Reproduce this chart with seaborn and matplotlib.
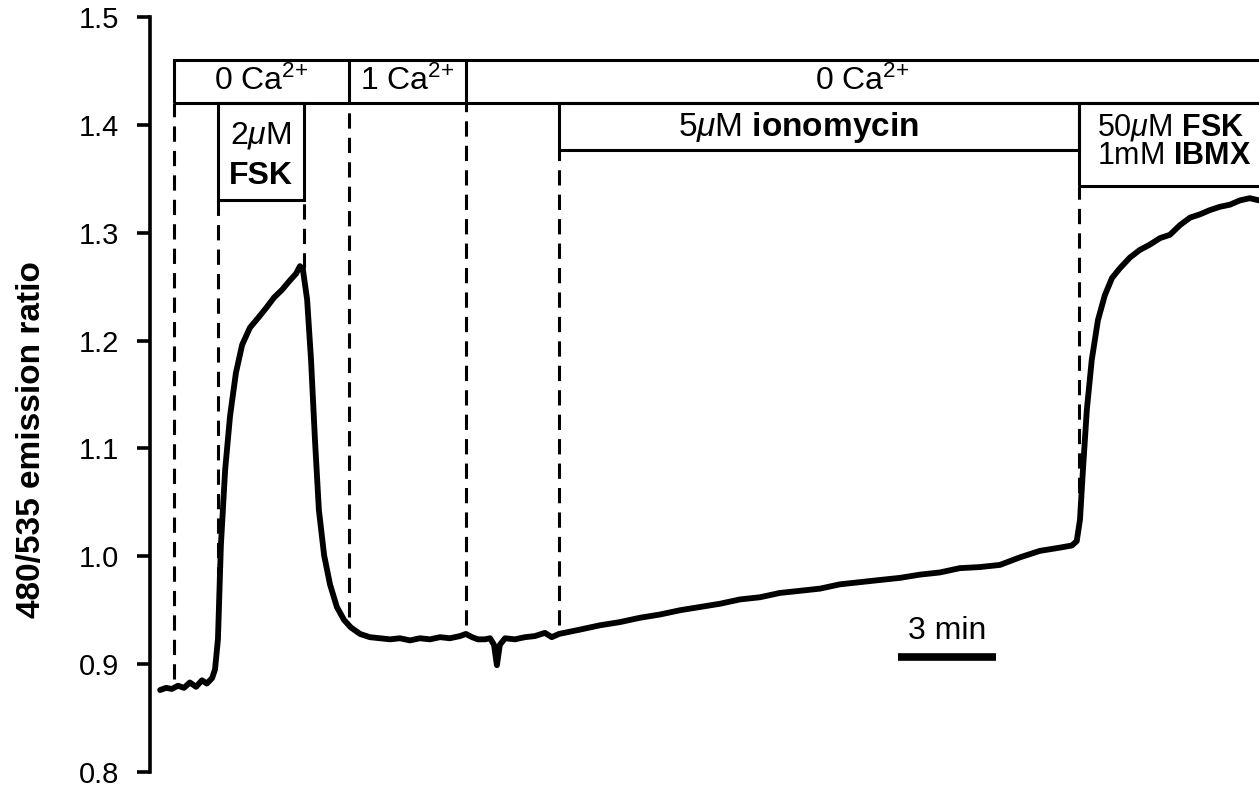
"""Calcium / cAMP FRET trace with perfusion-protocol boxes."""
import matplotlib.pyplot as plt
from matplotlib.patches import Rectangle
import numpy as np
import seaborn as sns

# ── data (minutes, 480/535 ratio) ──────────────────────────────────────────
time = [0.31, 0.49, 0.67, 0.86, 1.04, 1.22, 1.41, 1.59, 1.74, 1.90, 1.99, 2.08,
        2.17, 2.30, 2.45, 2.63, 2.82, 3.06, 3.31, 3.55, 3.80, 4.04, 4.29, 4.47,
        4.59, 4.68, 4.81, 4.93, 5.05, 5.17, 5.33, 5.51, 5.72, 5.94, 6.15, 6.43,
        6.73, 7.04, 7.35, 7.65, 7.96, 8.26, 8.57, 8.88, 9.18, 9.49, 9.67, 9.86,
        10.04, 10.25, 10.41, 10.53, 10.62, 10.71, 10.87, 11.17, 11.48, 11.78,
        12.09, 12.30, 12.52, 13.16, 13.77, 14.39, 15.00, 15.61, 16.23, 16.84,
        17.45, 18.06, 18.67, 19.28, 19.90, 20.51, 21.12, 21.73, 22.34, 22.96,
        23.57, 24.18, 24.79, 25.40, 26.02, 26.63, 27.24, 27.85, 28.22, 28.37,
        28.47, 28.56, 28.68, 28.83, 29.02, 29.23, 29.45, 29.69, 30.00, 30.30,
        30.61, 30.92, 31.22, 31.53, 31.84, 32.14, 32.45, 32.75, 33.06, 33.37,
        33.67, 33.95]
ratio = [0.876, 0.878, 0.877, 0.880, 0.878, 0.883, 0.879, 0.885, 0.882, 0.887, 0.895, 0.923,
         1.010, 1.080, 1.130, 1.170, 1.196, 1.212, 1.221, 1.230, 1.240, 1.247, 1.256, 1.262,
         1.269, 1.266, 1.238, 1.182, 1.108, 1.043, 1.001, 0.974, 0.953, 0.941, 0.934, 0.928,
         0.925, 0.924, 0.923, 0.924, 0.922, 0.924, 0.923, 0.925, 0.924, 0.926, 0.928, 0.925,
         0.923, 0.923, 0.924, 0.918, 0.899, 0.918, 0.924, 0.923, 0.925, 0.926,
         0.929, 0.925, 0.928, 0.932, 0.936, 0.939, 0.943, 0.946, 0.950, 0.953,
         0.956, 0.960, 0.962, 0.966, 0.968, 0.970, 0.974, 0.976, 0.978, 0.980,
         0.983, 0.985, 0.989, 0.990, 0.992, 0.999, 1.005, 1.008, 1.010, 1.014,
         1.034, 1.080, 1.136, 1.182, 1.219, 1.242, 1.258, 1.267, 1.277, 1.284,
         1.289, 1.295, 1.298, 1.307, 1.314, 1.317, 1.321, 1.324, 1.326, 1.330,
         1.332, 1.330]

# solution switch times (min)
t_zero_ca = 0.73
t_fsk_on, t_fsk_off = 2.08, 4.71
t_one_ca = 6.09
t_zero_ca2 = 9.67
t_iono = 12.52
t_fsk_ibmx = 28.44
T_END = 33.95

Y_TICKS = [0.8, 0.9, 1.0, 1.1, 1.2, 1.3, 1.4, 1.5]

# ── style ───────────────────────────────────────────────────────────────────
sns.set_theme(style="white")
plt.rcParams["font.family"] = ["Liberation Sans", "DejaVu Sans"]
plt.rcParams["text.color"] = "black"
plt.rcParams["axes.labelcolor"] = "black"
plt.rcParams["mathtext.fontset"] = "custom"
plt.rcParams["mathtext.rm"] = "Liberation Sans"
plt.rcParams["mathtext.it"] = "Liberation Sans:italic"
plt.rcParams["mathtext.bf"] = "Liberation Sans:bold"

fig = plt.figure(figsize=(12.59, 7.94), dpi=100)
ax = fig.add_axes([150 / 1259, 22 / 794, 1109 / 1259, 755 / 794])

sns.lineplot(x=time, y=ratio, color="black", linewidth=4.2, estimator=None,
             sort=False, ax=ax)

ax.set_xlim(0, T_END)
ax.set_ylim(0.8, 1.5)
ax.set_yticks(Y_TICKS)
ax.set_yticklabels([f"{v:.1f}" for v in Y_TICKS])
ax.set_xticks([])
for side in ("top", "right", "bottom"):
    ax.spines[side].set_visible(False)
ax.spines["left"].set_linewidth(2.6)
ax.spines["left"].set_color("black")
ax.tick_params(axis="y", direction="out", length=9.5, width=2.6, pad=13,
               labelsize=21, colors="black", labelcolor="black", left=True)
fig.text(32 / 1259, 0.447, "480/535 emission ratio", rotation=90, ha="center",
         va="center", fontsize=24, fontweight="bold", color="black")

# ── protocol boxes ──────────────────────────────────────────────────────────
LW = 2.2
ROW_TOP, ROW_BOT = 1.460, 1.420


def box(x0, x1, y0, y1):
    ax.add_patch(Rectangle((x0, y0), x1 - x0, y1 - y0, fill=False,
                           edgecolor="black", linewidth=LW, clip_on=True))


box(t_zero_ca, T_END + 2, ROW_BOT, ROW_TOP)
for t in (t_one_ca, t_zero_ca2):
    ax.plot([t, t], [ROW_BOT, ROW_TOP], color="black", lw=LW)
box(t_fsk_on, t_fsk_off, 1.330, ROW_BOT)
box(t_iono, t_fsk_ibmx, 1.377, ROW_BOT)
box(t_fsk_ibmx, T_END + 2, 1.343, ROW_BOT)

fs = 23
ca = r"Ca$^{2\!+}$"
y_row = (ROW_TOP + ROW_BOT) / 2
ax.text((t_zero_ca + t_one_ca) / 2, y_row, "0 " + ca, ha="center", va="center", fontsize=fs)
ax.text((t_one_ca + t_zero_ca2) / 2, y_row, "1 " + ca, ha="center", va="center", fontsize=fs)
ax.text((t_zero_ca2 + T_END) / 2, y_row, "0 " + ca, ha="center", va="center", fontsize=fs)
ax.text((t_fsk_on + t_fsk_off) / 2, 1.390, r"2$\mu$M", ha="center", va="center", fontsize=fs)
ax.text((t_fsk_on + t_fsk_off) / 2, 1.353, "FSK", ha="center", va="center",
        fontsize=fs, fontweight="bold")
ax.text(19.85, 1.398, r"5$\mu$M $\mathbf{ionomycin}$",
        ha="center", va="center", fontsize=fs + 1)
ax.text(28.98, 1.398, r"50$\mu$M $\mathbf{FSK}$", ha="left", va="center", fontsize=fs - 1)
ax.text(28.98, 1.371, r"1mM $\mathbf{IBMX}$", ha="left", va="center", fontsize=fs - 1)

# dashed guides from the boxes down to the trace
guides = [(t_zero_ca, ROW_BOT), (t_fsk_on, 1.330), (t_fsk_off, 1.330),
          (t_one_ca, ROW_BOT), (t_zero_ca2, ROW_BOT), (t_iono, 1.377),
          (t_fsk_ibmx, 1.343)]
for t, top in guides:
    bottom = np.interp(t, time, ratio) + 0.008
    ax.plot([t, t], [bottom, top], color="black", lw=LW, linestyle=(0, (5, 3)))

# scale bar
ax.plot([22.9, 25.9], [0.907, 0.907], color="black", lw=5.5, solid_capstyle="butt")
ax.text(24.4, 0.917, "3 min", ha="center", va="bottom", fontsize=23)

fig.savefig("out.png", dpi=100)
